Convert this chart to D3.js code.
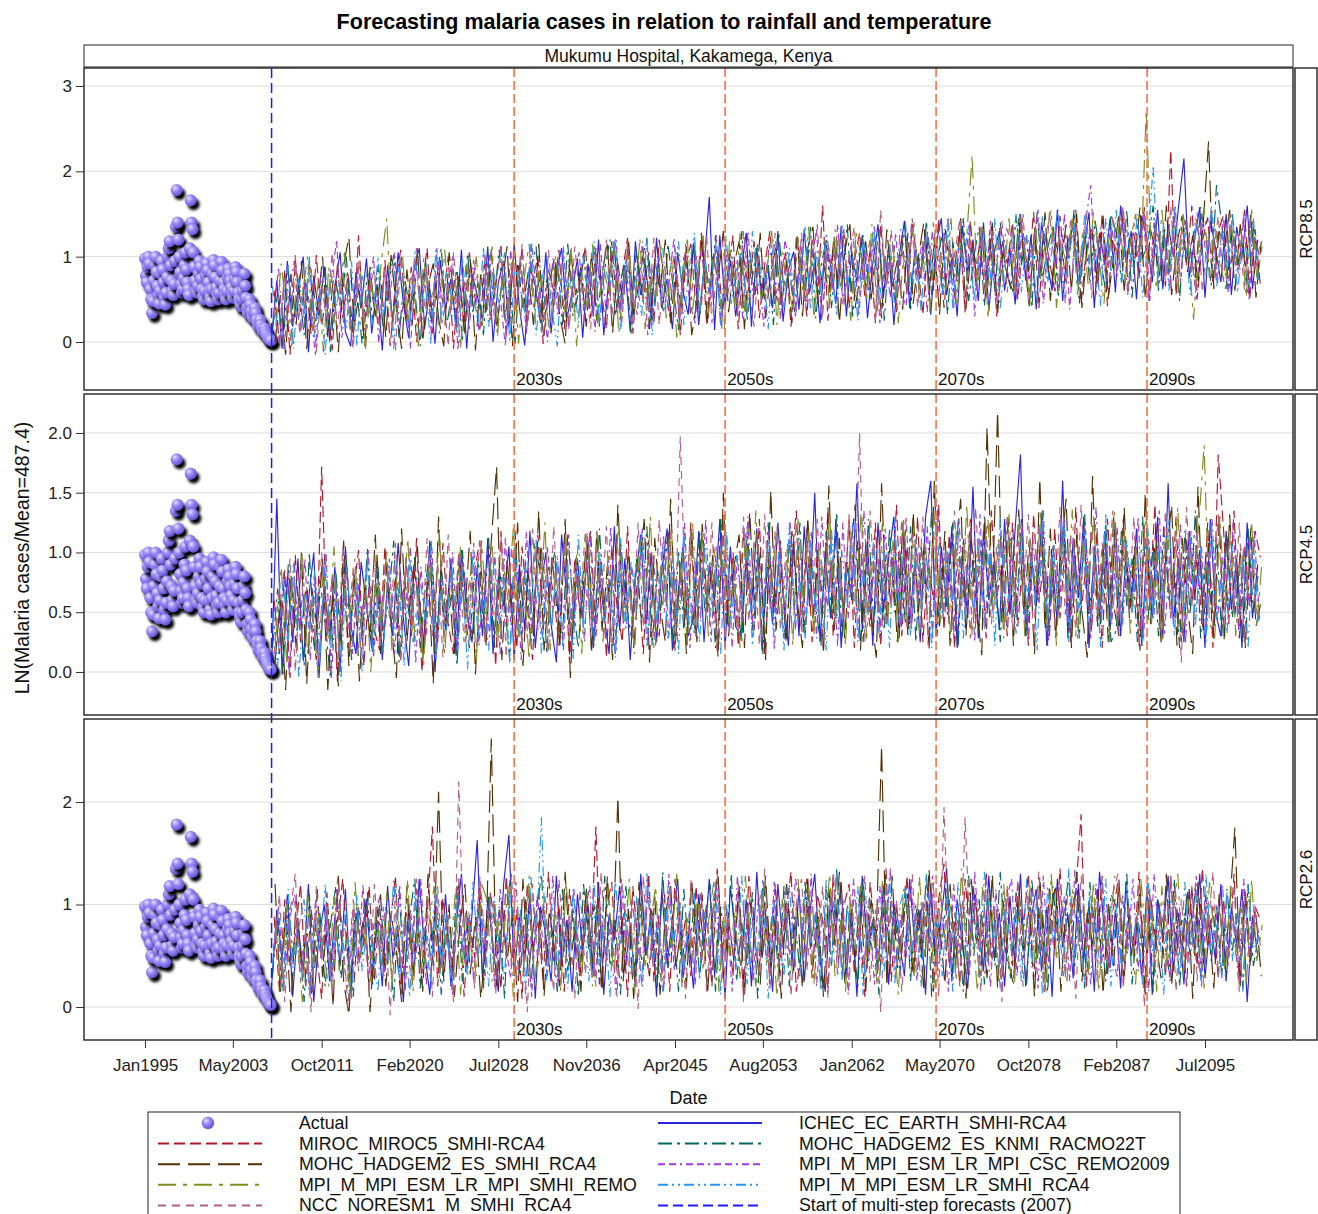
<!DOCTYPE html>
<html>
<head>
<meta charset="utf-8">
<script src="https://cdn.jsdelivr.net/npm/d3@7"></script>
<style>
  body { margin: 0; background: #fff; }
  svg text { font-family: "Liberation Sans", Arial, sans-serif; }
</style>
</head>
<body>
<svg id="chart" width="1318" height="1214"></svg>
<script>
// ---- data ----
const models = [
  'ICHEC_EC_EARTH_SMHI-RCA4', 'MIROC_MIROC5_SMHI-RCA4', 'MOHC_HADGEM2_ES_KNMI_RACMO22T',
  'MOHC_HADGEM2_ES_SMHI_RCA4', 'MPI_M_MPI_ESM_LR_MPI_CSC_REMO2009', 'MPI_M_MPI_ESM_LR_MPI_SMHI_REMO',
  'MPI_M_MPI_ESM_LR_SMHI_RCA4', 'NCC_NORESM1_M_SMHI_RCA4'
];
const scenarios = ['RCP8.5', 'RCP4.5', 'RCP2.6'];
const xTickLabels = ['Jan1995', 'May2003', 'Oct2011', 'Feb2020', 'Jul2028', 'Nov2036', 'Apr2045',
  'Aug2053', 'Jan2062', 'May2070', 'Oct2078', 'Feb2087', 'Jul2095'];
const yTicks = [[0, 1, 2, 3], [0, 0.5, 1, 1.5, 2], [0, 1, 2]];
const yDomains = [[-0.5625, 3.211], [-0.36, 2.326], [-0.322, 2.81]];
const decadeYears = [2030, 2050, 2070, 2090];
const forecastStart = '2007-01';
// first month of the half-yearly forecast values, per model
const forecastStarts = ['2007-01', '2007-04', '2007-02', '2007-05', '2007-03', '2007-06', '2007-02', '2007-04'];

// observed LN(cases/mean) x100, monthly Jan1995..Dec2006
const actualValues = [
  98,78,70,88,100,92,62,50,34,48,72,90,
  100,82,66,55,45,60,80,95,85,70,52,44,
  58,76,100,110,118,90,72,60,55,68,95,135,
  178,140,120,100,82,68,58,62,75,90,105,85,
  70,62,55,110,166,140,132,105,88,72,60,58,
  66,80,95,88,74,62,54,50,60,78,92,84,
  70,60,52,48,62,80,96,90,76,64,56,50,
  58,72,88,94,84,70,62,56,50,60,76,86,
  80,72,64,58,52,60,74,88,82,70,58,50,
  46,42,50,60,72,80,66,52,40,34,40,50,
  44,36,30,28,34,40,34,26,22,18,22,26,
  20,16,12,14,16,12,9,7,5,4,3,2
];

// forecasts x100, half-yearly, one row per model (same order as models)
const rcp85Values = [
  [5,72,-8,95,18,60,100,-12,78,30,88,2,65,105,12,-5,82,40,98,10,
   68,-10,90,22,105,45,5,85,110,15,62,-2,96,38,74,20,108,-8,80,55,
   25,112,0,70,95,18,115,40,-4,88,66,22,105,10,80,110,28,58,98,5,
   92,30,120,8,78,112,36,90,12,118,55,85,25,122,40,74,15,105,60,32,
   115,20,88,170,14,125,44,96,30,80,128,18,110,50,92,40,130,24,84,106,
   38,132,58,95,22,118,90,45,136,30,105,70,125,28,92,138,52,112,20,100,
   142,40,108,75,128,32,115,145,55,98,30,136,82,120,48,140,36,104,130,60,
   110,44,150,72,125,38,140,96,60,155,48,118,135,66,108,152,40,128,90,145,
   58,160,95,130,50,148,120,70,155,62,138,100,160,215,75,120,158,52,142,110,
   70,150,55,135,98,160,62,120],
  [60,0,85,-15,98,35,70,10,102,20,55,-10,92,28,80,5,125,12,75,40,
   18,96,-5,70,108,25,88,0,62,110,10,84,45,100,-8,78,20,105,55,15,
   98,30,65,115,5,90,40,112,20,72,100,-2,85,60,108,15,95,35,70,112,
   28,110,60,15,118,35,80,122,10,95,48,105,22,120,70,30,100,8,88,115,
   40,128,20,92,110,35,82,125,15,100,60,118,28,90,130,45,76,105,18,122,
   92,30,120,50,160,25,108,70,132,40,95,128,52,110,22,138,65,100,35,126,
   55,138,95,32,125,60,145,40,112,88,130,35,142,70,100,50,136,30,118,92,
   140,50,118,82,152,40,130,95,60,148,70,122,155,45,108,135,68,150,42,120,
   100,152,60,128,75,158,48,140,112,65,225,55,135,90,160,50,118,146,70,130,
   148,62,125,88,155,50,132,66],
  [15,58,-5,82,30,65,8,95,20,50,88,-12,72,35,100,10,60,-2,85,25,
   90,15,66,102,5,78,40,60,-5,98,28,72,110,18,55,85,0,104,35,70,
   8,92,50,108,25,68,-2,100,35,85,112,12,74,45,96,20,115,30,62,104,
   40,112,18,85,120,30,72,95,10,108,55,122,25,80,38,115,62,14,100,78,
   118,30,95,55,125,18,88,108,42,130,25,76,115,50,92,20,128,60,84,35,
   100,52,135,28,88,120,40,110,68,138,30,96,125,58,82,132,25,115,48,90,
   138,38,110,80,142,55,96,125,32,118,70,145,48,100,135,42,122,60,140,88,
   62,148,90,125,40,152,75,110,138,52,120,95,155,45,130,68,142,100,58,150,
   128,70,155,52,140,98,118,160,60,132,80,150,48,145,110,75,158,120,66,184,
   140,62,150,90,118,55,138,80],
  [0,55,-15,80,20,95,-8,68,35,100,5,72,-12,90,123,18,60,-5,88,30,
   78,5,102,40,-8,85,20,110,0,66,92,28,-5,105,50,75,10,98,-10,82,
   35,108,15,70,112,-5,95,40,82,20,115,8,68,100,30,-2,110,55,88,18,
   105,25,78,118,10,92,45,122,32,70,110,15,98,60,120,22,85,40,112,8,
   48,125,20,100,75,130,35,90,118,15,105,55,128,28,82,112,40,96,22,124,
   30,110,135,45,92,58,125,22,105,138,40,80,118,50,100,28,132,65,96,38,
   128,45,100,140,60,115,32,135,85,50,145,38,110,92,128,55,140,34,106,75,
   58,145,100,42,130,75,152,48,118,90,138,60,150,40,112,128,65,148,52,100,
   150,60,122,95,158,50,132,105,70,160,55,115,148,82,125,68,140,235,62,130,
   110,155,60,138,85,150,52,118],
  [25,88,-10,60,95,10,75,40,-15,82,28,70,120,5,65,-5,90,32,55,100,
   -2,78,45,105,15,62,-8,95,30,88,8,110,22,58,100,-10,72,40,96,12,
   70,102,20,55,-5,108,38,82,10,115,48,65,0,98,30,112,15,78,105,25,
   88,12,115,40,70,120,18,95,55,32,118,8,85,102,36,72,122,20,98,45,
   22,105,80,42,125,15,110,60,96,28,130,50,88,18,115,72,38,120,90,30,
   118,40,96,132,25,108,60,138,45,90,122,30,105,70,135,22,100,52,128,58,
   42,140,72,118,35,128,95,55,145,40,110,82,138,30,120,60,142,48,98,132,
   120,50,145,68,112,155,45,102,130,60,150,38,125,88,140,184,55,118,70,135,
   75,158,55,130,100,152,48,140,85,120,62,160,70,135,110,50,148,92,155,68,
   138,58,122,80,150,50,128,98],
  [18,92,35,-5,80,55,100,10,70,-12,88,25,60,105,15,40,85,-8,72,30,
   95,145,15,65,102,20,80,-5,98,45,62,10,108,30,75,-8,90,55,100,18,
   60,112,5,85,35,105,-2,72,115,25,90,50,10,100,68,28,110,-5,82,40,
   115,22,92,60,118,10,75,105,35,122,15,88,48,112,28,100,5,70,120,38,
   85,125,32,100,60,15,118,42,128,25,90,110,50,80,130,20,106,65,40,122,
   50,135,28,96,118,42,132,65,85,25,128,100,48,138,36,110,75,120,22,102,
   95,140,52,120,35,132,88,60,145,42,110,125,219,58,138,30,102,118,72,145,
   60,150,100,45,138,72,125,155,40,112,90,148,55,132,68,152,105,45,128,85,
   145,70,118,150,90,272,100,62,155,80,135,58,150,110,26,120,158,75,140,95,
   62,148,90,130,52,155,75,112],
  [65,12,50,90,-8,75,28,100,5,62,-15,85,38,70,15,95,-5,78,45,20,
   100,30,72,-8,88,55,15,105,40,68,-2,110,25,82,50,10,98,35,60,20,
   112,18,80,45,105,0,88,62,30,115,8,72,98,38,-5,108,55,85,22,100,
   45,118,25,90,65,122,15,100,50,78,30,120,8,95,110,38,72,118,20,88,
   128,35,98,60,115,20,125,45,85,105,28,130,62,95,15,120,80,40,110,52,
   75,135,38,108,58,128,90,30,138,65,100,25,122,82,135,45,96,115,40,130,
   142,60,105,35,135,82,120,55,145,40,112,92,138,48,100,130,65,145,38,115,
   92,150,58,125,105,45,148,70,118,155,52,100,138,62,150,80,110,42,145,78,
   155,68,132,88,150,52,118,207,75,140,60,158,95,128,55,145,112,78,160,65,
   130,85,150,58,120,98,145,70],
  [40,-5,78,22,102,10,55,90,-12,68,30,105,15,80,45,-8,95,28,62,85,
   10,88,50,-10,100,35,70,110,5,82,22,96,60,-5,105,40,75,15,92,55,
   102,25,68,110,10,92,45,115,18,80,58,-2,108,35,95,60,20,112,48,78,
   15,100,62,120,28,85,42,118,10,95,75,35,122,20,90,58,110,30,115,48,
   105,40,125,22,88,118,55,95,30,130,62,18,112,80,45,128,25,100,70,35,
   128,50,95,138,30,115,72,125,42,100,135,55,88,120,28,155,62,132,45,108,
   60,145,40,118,90,140,52,128,75,100,145,35,122,65,138,50,112,95,142,58,
   132,70,150,48,115,140,62,152,88,125,45,145,100,68,155,52,120,138,75,148,
   88,158,62,140,105,150,55,132,118,72,160,65,128,145,80,152,58,125,98,148,
   72,150,95,128,60,145,82,118]
];

const rcp45Values = [
  [5,145,-2,80,25,95,10,60,100,-5,72,30,88,0,105,40,15,92,55,20,
   98,10,75,30,108,45,5,85,62,20,110,0,78,35,95,15,102,50,25,88,
   30,112,15,80,55,105,10,90,35,118,20,70,100,40,8,115,60,25,95,45,
   110,20,88,50,15,122,35,95,10,78,115,40,100,25,85,120,18,62,105,30,
   45,118,25,90,60,128,20,105,38,30,95,55,120,18,88,40,125,65,22,110,
   30,122,55,150,25,100,45,128,20,92,60,158,35,110,22,125,50,95,130,28,
   115,40,95,25,130,160,30,105,55,122,20,98,45,155,28,118,60,92,35,128,
   48,120,182,30,100,55,125,22,95,40,160,28,112,62,130,20,105,45,118,35,
   125,30,98,55,120,22,108,45,130,28,158,40,95,25,118,60,102,20,128,50,
   30,118,52,95,20,125,45,90],
  [60,15,85,-5,98,25,70,40,10,172,30,80,-8,92,20,65,102,5,75,35,
   18,105,45,80,10,95,30,112,0,70,88,25,108,40,15,98,55,20,85,110,
   25,90,5,118,40,75,20,105,55,10,115,35,88,65,22,110,8,95,48,80,
   118,30,92,12,105,55,25,122,40,80,15,110,60,30,98,120,18,85,45,125,
   28,112,55,90,18,130,40,100,22,118,65,35,128,15,95,50,110,25,88,135,
   40,120,25,102,60,135,30,92,50,128,20,110,70,38,125,22,98,55,140,30,
   105,45,130,25,92,60,140,35,115,20,98,55,128,40,110,28,135,62,90,30,
   125,38,100,22,132,58,95,30,120,45,108,25,138,50,92,35,118,20,128,60,
   35,128,52,98,22,120,60,140,30,105,45,130,25,112,58,95,38,125,20,182,
   120,40,135,28,105,55,118,96],
  [20,70,-2,90,35,62,5,100,18,78,40,-5,85,25,95,10,68,30,104,15,
   88,30,60,110,8,80,45,98,20,72,108,15,90,38,65,5,102,50,28,95,
   40,112,20,85,58,10,118,35,92,25,80,105,15,98,48,30,115,55,20,88,
   100,25,120,45,78,15,110,60,30,95,40,122,22,85,55,118,18,102,35,70,
   32,118,50,92,20,128,40,80,62,25,115,35,105,15,125,48,90,28,110,55,
   125,30,98,55,22,118,45,132,28,92,60,110,25,128,40,85,35,120,50,100,
   40,122,25,105,58,135,30,90,48,125,20,112,62,95,32,130,45,88,25,118,
   110,45,128,30,95,60,135,22,105,50,118,35,90,28,132,55,100,40,125,25,
   35,120,55,95,25,130,42,108,30,122,60,88,20,118,48,135,28,100,52,112,
   30,115,45,90,25,120,50,84],
  [8,60,-15,82,20,100,-10,70,35,95,-15,65,-12,110,5,85,-8,75,28,115,
   15,92,40,-5,120,25,80,105,10,88,-10,130,30,70,15,98,50,118,-2,84,
   22,110,172,10,95,40,125,5,85,30,135,18,72,100,20,128,-5,95,45,110,
   15,118,35,88,10,140,45,102,20,80,128,8,112,55,25,145,30,92,15,118,
   25,124,50,98,12,150,30,88,115,20,134,45,100,10,152,35,85,25,118,60,
   20,130,45,100,15,156,35,112,28,95,140,18,108,50,12,158,40,96,25,124,
   30,134,50,105,18,160,38,118,22,100,145,30,112,55,14,205,60,218,40,128,
   22,136,48,110,15,162,35,120,28,100,145,20,115,50,12,164,38,105,25,130,
   30,138,45,105,18,150,40,122,25,98,140,22,112,55,15,155,35,108,28,130,
   25,132,48,100,20,120,38,60],
  [65,20,85,-2,72,35,95,10,80,25,100,-5,70,40,88,15,78,28,102,12,
   74,32,95,15,82,48,105,8,88,30,110,20,78,45,100,18,92,35,108,22,
   85,30,100,15,112,42,90,10,118,35,80,28,105,50,92,18,115,38,82,25,
   118,30,95,45,122,18,100,40,88,55,120,22,98,48,115,28,85,52,125,20,
   92,45,128,25,105,55,115,20,98,42,130,30,88,60,120,18,108,48,125,35,
   100,40,118,28,130,55,95,22,125,45,108,32,135,50,92,28,120,58,102,38,
   130,35,105,52,122,28,138,45,98,30,128,58,110,25,132,40,100,55,118,38,
   98,50,125,30,112,58,135,25,105,48,128,35,95,60,120,28,138,45,108,40,
   122,38,100,55,130,28,112,48,135,32,98,58,125,25,118,50,105,35,128,42,
   96,50,125,35,104,56,118,44],
  [30,88,10,75,40,100,15,62,-5,90,28,105,12,70,45,95,20,82,0,98,
   35,102,18,85,50,112,22,70,5,98,38,118,15,80,55,105,25,90,8,110,
   42,108,20,95,60,120,28,80,10,110,45,125,18,88,62,115,30,98,15,118,
   48,115,25,100,65,125,35,85,15,112,50,130,22,92,68,118,38,102,20,124,
   52,118,28,105,70,130,38,90,20,116,55,135,25,98,72,122,40,108,22,128,
   55,120,30,108,72,132,40,92,22,118,58,138,28,100,75,125,42,110,25,130,
   55,122,32,110,70,135,40,95,25,120,55,140,30,105,72,128,45,112,28,132,
   52,125,30,112,68,132,38,98,22,118,58,136,28,108,70,130,42,115,25,134,
   55,120,32,106,72,135,40,98,25,122,55,138,30,104,75,125,190,42,28,130,
   50,118,30,104,68,126,38,94],
  [50,5,78,25,92,-5,65,35,85,10,100,20,62,-8,88,40,75,0,95,18,
   60,15,88,30,72,5,98,25,80,42,105,10,70,35,92,18,85,2,100,28,
   68,18,95,40,80,8,108,30,88,48,112,15,75,38,98,22,90,10,115,32,
   72,22,102,42,85,12,112,35,92,50,118,20,80,40,105,28,95,15,120,38,
   78,25,108,45,90,15,118,40,98,55,122,22,85,45,110,30,100,18,125,40,
   80,28,110,48,92,18,120,42,100,58,125,25,88,48,112,32,102,20,128,42,
   82,30,112,50,95,20,122,45,102,60,128,28,90,50,115,35,105,22,130,45,
   80,32,115,48,98,18,125,42,105,55,130,25,92,48,118,35,108,20,132,42,
   78,35,110,50,95,22,120,45,100,58,128,30,90,50,115,38,105,24,125,44,
   80,32,108,46,94,20,112,40],
  [15,75,30,95,0,85,40,62,15,100,25,80,5,105,35,88,20,65,45,95,
   20,90,38,108,8,96,45,75,22,112,30,92,12,115,40,100,25,78,50,110,
   25,98,42,115,12,105,50,85,28,120,35,100,18,122,45,108,30,88,55,118,
   28,105,48,122,15,110,55,90,30,125,38,102,20,128,50,112,32,197,58,120,
   30,108,50,125,18,115,58,95,35,130,42,108,22,132,52,118,35,100,62,125,
   32,112,52,128,20,118,60,98,38,132,45,200,25,135,55,120,38,102,65,128,
   35,115,55,130,22,120,62,100,40,135,48,112,28,138,58,122,40,105,65,132,
   35,118,55,132,25,122,62,102,42,138,48,115,30,140,58,125,42,108,68,135,
   32,112,52,130,22,120,58,100,38,135,45,112,8,138,55,122,40,105,62,132,
   35,110,50,125,25,115,55,45]
];

const rcp26Values = [
  [20,95,45,110,10,82,35,120,5,70,100,25,88,40,115,15,92,60,105,30,
   85,20,118,48,75,5,100,30,125,55,12,95,38,110,20,80,130,35,90,163,
   25,105,60,15,120,168,30,88,45,112,8,98,70,25,128,40,85,15,110,55,
   100,30,122,12,90,65,118,35,80,20,130,50,95,10,115,42,85,125,28,72,
   18,110,55,125,30,92,8,118,68,40,105,20,132,48,88,15,120,60,98,35,
   115,25,90,130,45,15,108,75,122,30,96,10,128,52,85,38,118,22,100,65,
   30,125,58,95,12,120,40,88,135,25,105,62,18,118,80,35,128,48,92,20,
   108,42,130,20,86,115,35,98,10,125,58,90,28,120,45,102,15,132,68,38,
   95,18,122,50,88,30,118,12,105,70,128,35,92,22,115,55,130,28,85,45,
   120,25,98,60,115,5,88,50],
  [88,15,105,40,70,120,20,95,55,8,112,30,82,125,45,10,98,60,118,25,
   100,35,80,128,12,92,50,115,22,88,176,20,106,62,35,125,10,90,48,118,
   30,112,72,18,128,40,95,8,120,55,85,25,132,45,100,15,115,68,30,105,
   50,176,20,96,122,35,88,10,118,62,40,130,25,92,110,15,125,55,85,30,
   118,42,95,20,135,58,80,30,112,10,128,68,38,102,22,120,48,90,132,15,
   60,125,28,110,85,18,130,45,98,120,32,88,10,122,70,40,135,25,100,52,
   128,35,92,58,120,15,105,140,40,85,22,125,65,110,30,132,48,95,18,115,
   40,120,75,130,28,98,15,118,55,135,35,90,112,188,20,105,62,128,30,92,
   122,25,100,48,132,15,110,65,92,30,128,50,85,20,118,40,135,58,98,28,
   105,50,130,22,115,40,98,85],
  [30,88,15,102,45,75,5,110,38,92,20,80,118,28,65,10,98,50,112,22,
   95,40,70,5,115,30,88,125,18,78,50,108,12,90,35,120,25,85,60,100,
   18,110,42,95,8,125,60,30,105,20,88,130,45,72,15,115,35,98,10,120,
   55,100,22,128,40,85,12,118,65,30,110,50,95,20,132,38,80,15,115,48,
   105,28,90,120,15,98,55,130,25,82,40,112,8,125,60,95,30,118,20,88,
   35,122,58,92,18,115,40,135,28,100,70,20,125,45,88,12,120,52,95,30,
   118,25,100,48,130,10,92,62,120,35,85,15,128,50,105,22,115,40,132,55,
   28,112,70,20,125,45,95,15,118,58,90,128,32,102,18,122,48,85,25,110,
   98,40,130,22,88,55,120,15,105,65,35,125,20,92,50,118,30,110,45,100,
   30,115,55,92,18,120,40,70],
  [120,15,90,-5,108,40,72,10,115,30,95,0,128,25,-8,85,45,105,-5,80,
   110,20,92,55,5,118,35,85,15,130,40,210,25,100,10,78,120,32,88,8,
   60,262,18,105,45,90,5,125,30,80,112,10,95,55,20,132,40,85,15,118,
   35,100,15,128,48,205,25,95,8,122,60,30,108,12,90,118,38,80,20,125,
   50,110,12,92,130,28,85,45,118,10,105,65,22,128,35,90,8,120,55,98,
   18,125,40,88,10,115,60,132,25,95,48,118,15,105,70,255,20,128,38,92,
   110,30,95,15,135,52,82,22,120,40,100,8,125,62,90,28,130,18,108,45,
   22,118,55,98,10,128,35,85,120,15,105,48,132,25,92,60,115,12,102,40,
   125,30,90,50,118,12,108,65,28,130,20,95,55,115,8,122,42,88,18,110,
   35,98,175,20,112,45,90,30],
  [55,98,20,82,110,35,70,12,105,48,88,25,115,60,18,95,40,120,28,78,
   105,30,88,60,118,15,95,45,125,22,80,108,38,70,12,112,52,92,25,120,
   40,100,18,115,62,28,122,45,85,10,108,70,30,128,20,92,55,115,35,88,
   118,25,98,50,82,12,125,40,105,65,20,118,48,90,15,130,35,102,58,80,
   22,112,70,30,120,45,95,15,128,55,85,25,110,62,38,122,18,98,50,125,
   100,40,130,20,88,58,115,30,105,12,125,68,42,92,22,118,55,135,28,90,
   48,118,25,102,70,128,35,88,15,120,52,98,30,132,60,85,20,115,45,105,
   125,30,95,60,115,18,128,42,90,65,108,25,135,50,82,22,120,38,100,58,
   28,110,52,125,35,92,15,130,60,100,25,118,42,88,70,128,20,105,48,95,
   118,40,90,25,125,55,100,65],
  [80,15,100,45,68,5,115,30,92,55,20,108,35,85,10,122,48,75,25,98,
   40,112,20,90,60,125,15,98,35,80,118,28,72,50,110,12,95,65,30,120,
   105,25,88,55,118,10,92,40,128,20,75,108,45,95,15,122,60,82,30,112,
   20,98,65,115,30,88,48,125,12,102,40,80,118,25,95,58,130,18,90,45,
   110,35,82,122,15,100,50,92,28,128,60,20,115,42,88,10,105,70,32,125,
   48,118,22,95,68,130,30,85,15,110,55,122,38,98,20,125,45,80,12,115,
   92,30,128,50,88,18,112,62,100,25,135,40,82,15,118,55,95,28,120,42,
   20,105,58,118,35,92,12,130,48,85,25,115,68,100,30,122,15,88,55,128,
   110,45,85,22,125,60,98,15,118,40,90,130,28,105,52,82,18,122,65,95,
   30,118,50,100,20,125,45,80],
  [40,92,18,115,30,78,105,10,88,55,120,25,72,45,100,8,110,35,82,60,
   15,98,42,125,28,85,10,112,58,78,22,118,40,92,15,105,65,30,122,50,
   88,20,108,60,30,118,45,95,12,128,65,185,25,100,40,80,18,115,55,92,
   25,120,40,88,10,125,62,95,30,108,20,132,48,82,15,118,58,100,35,90,
   112,28,95,55,122,12,100,68,38,128,22,88,50,115,8,105,72,30,120,45,
   30,110,62,92,18,125,40,135,25,98,55,118,12,105,68,85,35,128,22,100,
   118,45,88,20,130,58,95,30,112,15,122,65,40,100,28,132,50,85,18,108,
   55,95,25,125,38,110,12,118,62,88,30,135,45,98,22,115,70,40,125,20,
   100,35,118,58,88,20,128,48,95,12,115,70,30,122,42,90,25,130,55,82,
   28,112,45,95,15,120,58,70],
  [60,110,5,92,130,25,80,-5,118,45,98,12,125,70,0,105,35,88,15,120,
   50,95,-8,115,40,82,20,125,58,102,10,118,35,90,5,220,42,80,18,128,
   62,108,12,95,48,130,25,85,-5,120,40,100,68,15,125,55,92,8,115,32,
   98,20,132,45,85,10,120,60,105,-2,128,35,90,75,22,118,50,102,8,125,
   40,112,15,95,130,28,88,55,120,5,108,70,30,135,18,92,48,118,10,100,
   125,35,98,60,118,8,132,42,85,20,115,65,128,25,95,-5,120,50,105,15,
   88,130,30,105,55,122,10,195,48,92,20,185,62,100,15,128,38,95,5,118,
   45,125,20,108,68,132,15,95,50,118,28,102,8,128,60,90,25,120,40,110,
   130,18,100,55,122,0,115,38,92,65,128,15,105,45,118,25,95,70,132,30,
   98,50,120,15,108,40,92,60]
];
const scenarioValues = [rcp85Values, rcp45Values, rcp26Values];

// ---- styling ----
const modelColors = ['#2A25D9', '#B2182B', '#01665E', '#543005', '#9D3CDB', '#7F8E1F', '#2597FA', '#B26084'];
const modelDash = [null, '11,5', '14,5,3,5', '22,8', '7,4,7,4,2,4', '18,7,4,7', '10,4,2,4,2,4', '8,6'];
const refColor = '#F26A3C';
const startColor = '#1A1AFF';

const svg = d3.select('#chart');
const plotL = 84, plotR = 1293;
const panelBox = [[68, 390], [394, 715], [719, 1040]];
const parseMonth = d3.timeParse('%Y-%m');
const parseTick = d3.timeParse('%b%Y');

const x = d3.scaleTime()
  .domain([parseTick('Jan1995'), parseTick('Jul2095')])
  .range([145, 1205]);

const actualData = actualValues.map((v, k) => ({ date: d3.timeMonth.offset(parseMonth('1995-01'), k), v: v / 100 }));
const startDate = parseMonth(forecastStart);

// defs: sphere gradient, shadow
const defs = svg.append('defs');
const grad = defs.append('radialGradient').attr('id', 'sphere')
  .attr('cx', '35%').attr('cy', '32%').attr('r', '70%');
grad.append('stop').attr('offset', '0%').attr('stop-color', '#e4e0ff');
grad.append('stop').attr('offset', '40%').attr('stop-color', '#9d8ff6');
grad.append('stop').attr('offset', '100%').attr('stop-color', '#5f50d0');
const shadow = defs.append('filter').attr('id', 'shadow')
  .attr('x', '-60%').attr('y', '-60%').attr('width', '240%').attr('height', '240%');
shadow.append('feDropShadow').attr('dx', 3).attr('dy', 4).attr('stdDeviation', 1.8)
  .attr('flood-color', '#000').attr('flood-opacity', 1);

// title
svg.append('text').attr('x', 664).attr('y', 29).attr('text-anchor', 'middle')
  .style('font-size', '21.5px').style('font-weight', 'bold')
  .text('Forecasting malaria cases in relation to rainfall and temperature');

// header cell
svg.append('rect').attr('x', plotL).attr('y', 45).attr('width', plotR - plotL).attr('height', 22)
  .attr('fill', '#fff').attr('stroke', '#222').attr('stroke-width', 1);
svg.append('text').attr('x', (plotL + plotR) / 2).attr('y', 62).attr('text-anchor', 'middle')
  .style('font-size', '17.5px').attr('fill', '#111').text('Mukumu Hospital, Kakamega, Kenya');

scenarios.forEach((name, pi) => {
  const [top, bottom] = panelBox[pi];
  const y = d3.scaleLinear().domain(yDomains[pi]).range([bottom, top]);
  const g = svg.append('g');

  defs.append('clipPath').attr('id', 'clip' + pi)
    .append('rect').attr('x', plotL).attr('y', top).attr('width', plotR - plotL).attr('height', bottom - top);

  // gridlines
  g.selectAll('line.grid').data(yTicks[pi]).join('line')
    .attr('class', 'grid')
    .attr('x1', plotL).attr('x2', plotR)
    .attr('y1', d => y(d)).attr('y2', d => y(d))
    .attr('stroke', '#dcdcdc').attr('stroke-width', 1);

  // y axis
  const fmt = pi === 1 ? d3.format('.1f') : d3.format('d');
  const ax = g.append('g').attr('transform', `translate(${plotL},0)`)
    .call(d3.axisLeft(y).tickValues(yTicks[pi]).tickFormat(fmt).tickSize(8).tickPadding(4));
  ax.select('.domain').remove();
  ax.selectAll('line').attr('stroke', '#333');
  ax.selectAll('text').style('font-size', '17px').attr('fill', '#222');

  const plot = g.append('g').attr('clip-path', `url(#clip${pi})`);

  // observed spheres, each with its own drop shadow
  plot.append('g')
    .selectAll('circle').data(actualData).join('circle')
    .attr('cx', d => x(d.date)).attr('cy', d => y(d.v)).attr('r', 6)
    .attr('fill', 'url(#sphere)')
    .attr('filter', 'url(#shadow)');

  // model forecasts
  const line = d3.line().x(d => x(d.date)).y(d => y(d.v));
  scenarioValues[pi].forEach((vals, mi) => {
    const first = parseMonth(forecastStarts[mi]);
    const series = vals.map((v, i) => ({ date: d3.timeMonth.offset(first, 6 * i), v: v / 100 }));
    plot.append('path').datum(series)
      .attr('d', line)
      .attr('fill', 'none')
      .attr('stroke', modelColors[mi])
      .attr('stroke-width', 1.15)
      .attr('stroke-dasharray', modelDash[mi]);
  });

  // decade reference lines
  decadeYears.forEach(yr => {
    const xd = x(new Date(yr, 0, 1));
    g.append('line').attr('x1', xd).attr('x2', xd).attr('y1', top).attr('y2', bottom)
      .attr('stroke', refColor).attr('stroke-width', 1.5).attr('stroke-dasharray', '9,4');
    g.append('text').attr('x', xd + 2).attr('y', bottom - 5)
      .style('font-size', '17px').attr('fill', '#111').text(yr + 's');
  });

  // panel frame
  g.append('rect').attr('x', plotL).attr('y', top).attr('width', plotR - plotL).attr('height', bottom - top)
    .attr('fill', 'none').attr('stroke', '#222').attr('stroke-width', 1.4);

  // right strip
  g.append('rect').attr('x', plotR + 2).attr('y', top).attr('width', 22).attr('height', bottom - top)
    .attr('fill', '#fff').attr('stroke', '#222').attr('stroke-width', 1.4);
  g.append('text')
    .attr('transform', `translate(${plotR + 19},${(top + bottom) / 2}) rotate(-90)`)
    .attr('text-anchor', 'middle').style('font-size', '17px').attr('fill', '#111').text(name);
});

// start-of-forecast line across all panels
const xs = x(startDate);
svg.append('line').attr('x1', xs).attr('x2', xs).attr('y1', panelBox[0][0]).attr('y2', panelBox[2][1])
  .attr('stroke', startColor).attr('stroke-width', 1.5).attr('stroke-dasharray', '10,5');

// x axis
const xAxis = svg.append('g').attr('transform', `translate(0,${panelBox[2][1]})`)
  .call(d3.axisBottom(x).tickValues(xTickLabels.map(parseTick)).tickFormat(d3.timeFormat('%b%Y')).tickSize(8).tickPadding(11));
xAxis.select('.domain').remove();
xAxis.selectAll('line').attr('stroke', '#333');
xAxis.selectAll('text').style('font-size', '17px').attr('fill', '#222');

svg.append('text').attr('x', (plotL + plotR) / 2).attr('y', 1104).attr('text-anchor', 'middle')
  .style('font-size', '18px').attr('fill', '#111').text('Date');

svg.append('text')
  .attr('transform', 'translate(29,558) rotate(-90)')
  .attr('text-anchor', 'middle').style('font-size', '19.5px').attr('fill', '#111')
  .text('LN(Malaria cases/Mean=487.4)');

// legend (row-major, two columns)
const legendItems = [{ name: 'Actual', type: 'actual' }]
  .concat(models.map((m, i) => ({ name: m, type: 'model', i })))
  .concat([{ name: 'Start of multi-step forecasts (2007)', type: 'start' }]);
const lg = svg.append('g');
lg.append('rect').attr('x', 148).attr('y', 1112).attr('width', 1032).attr('height', 112)
  .attr('fill', '#fff').attr('stroke', '#222').attr('stroke-width', 1);
legendItems.forEach((it, k) => {
  const col = k % 2, row = Math.floor(k / 2);
  const cy = 1123 + row * 20.6;
  const x0 = col === 0 ? 158 : 658;
  if (it.type === 'actual') {
    lg.append('circle').attr('cx', x0 + 50).attr('cy', cy).attr('r', 6).attr('fill', 'url(#sphere)')
      .attr('stroke', '#6a5ad8').attr('stroke-width', 0.5);
  } else {
    const c = it.type === 'start' ? startColor : modelColors[it.i];
    const dash = it.type === 'start' ? '10,5' : modelDash[it.i];
    lg.append('line').attr('x1', x0).attr('x2', x0 + 104).attr('y1', cy).attr('y2', cy)
      .attr('stroke', c).attr('stroke-width', 2).attr('stroke-dasharray', dash);
  }
  lg.append('text').attr('x', x0 + 141).attr('y', cy + 6)
    .style('font-size', '17.8px').attr('fill', '#111').text(it.name);
});
</script>
</body>
</html>
